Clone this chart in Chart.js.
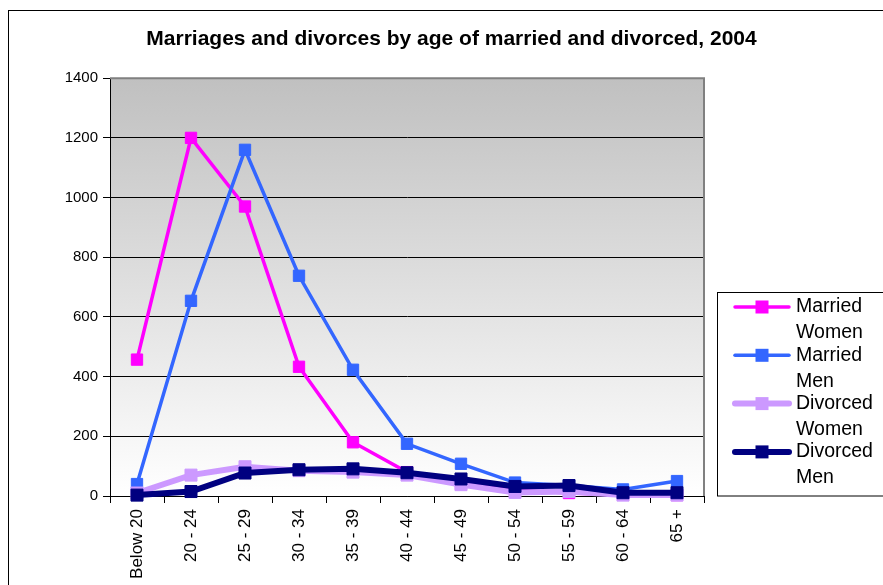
<!DOCTYPE html>
<html>
<head>
<meta charset="utf-8">
<script src="https://cdn.jsdelivr.net/npm/chart.js@4.4.0/dist/chart.umd.min.js"></script>
<style>
  html, body { margin: 0; padding: 0; background: #fff; }
  #wrap { width: 883px; height: 585px; position: relative; overflow: hidden; }
</style>
</head>
<body>
<div id="wrap"><canvas id="chart" width="883" height="585"></canvas></div>
<script>
// values
const ageGroups = ['Below 20', '20 - 24', '25 - 29', '30 - 34', '35 - 39', '40 - 44', '45 - 49', '50 - 54', '55 - 59', '60 - 64', '65 +'];
const marriedWomen = [457, 1200, 970, 433, 180, 80, 40, 20, 10, 4, 3];
const marriedMen = [40, 654, 1160, 738, 423, 175, 108, 45, 35, 22, 50];
const divorcedWomen = [10, 70, 98, 85, 80, 70, 38, 12, 15, 3, 3];
const divorcedMen = [3, 15, 77, 88, 91, 78, 57, 32, 35, 11, 11];
const yTicks = [0, 200, 400, 600, 800, 1000, 1200, 1400];

const seriesNames = [['Married', 'Women'], ['Married', 'Men'], ['Divorced', 'Women'], ['Divorced', 'Men']];
const seriesColors = ['#FF00FF', '#3366FF', '#CC99FF', '#000080'];
const seriesWidths = [3.5, 3.5, 6, 6];

const fontFamily = "'Liberation Sans', Arial, sans-serif";

function makeDataset(i, values) {
    return {
        label: seriesNames[i].join(' '),
        data: values,
        borderColor: seriesColors[i],
        backgroundColor: seriesColors[i],
        borderWidth: seriesWidths[i],
        pointStyle: 'rect',
        pointRadius: i < 2 ? 8 : 8.5,
        pointBorderWidth: 1,
        pointBorderColor: seriesColors[i],
        pointBackgroundColor: seriesColors[i],
        tension: 0,
        clip: false,
        order: 3 - i // last series on top, like the original
    };
}

// background, outer frame and gradient plot area
const backdrop = {
    id: 'backdrop',
    beforeDraw(chart) {
        const ctx = chart.ctx;
        const a = chart.chartArea;
        ctx.save();
        ctx.fillStyle = '#fff';
        ctx.fillRect(0, 0, chart.width, chart.height);
        ctx.strokeStyle = '#000';
        ctx.lineWidth = 1;
        ctx.strokeRect(8.5, 10.5, 1000, 1000);
        const g = ctx.createLinearGradient(0, a.top, 0, a.bottom);
        g.addColorStop(0, '#C0C0C0');
        g.addColorStop(1, '#FFFFFF');
        ctx.fillStyle = g;
        ctx.fillRect(a.left, a.top, a.right - a.left, a.bottom - a.top);
        ctx.restore();
    },
    beforeDatasetsDraw(chart) {
        const ctx = chart.ctx;
        const a = chart.chartArea;
        ctx.save();
        ctx.strokeStyle = '#808080';
        ctx.lineWidth = 2;
        ctx.beginPath();
        ctx.moveTo(a.left, a.top);
        ctx.lineTo(a.right, a.top);
        ctx.lineTo(a.right, a.bottom);
        ctx.stroke();
        ctx.restore();
    }
};

// boxed legend with line + square swatches and wrapped names
const boxLegend = {
    id: 'boxLegend',
    afterDraw(chart) {
        const ctx = chart.ctx;
        const left = 717.5, top = 292.5;
        ctx.save();
        ctx.fillStyle = '#fff';
        ctx.fillRect(left, top, 200, 203.5);
        ctx.strokeStyle = '#000';
        ctx.lineWidth = 1;
        ctx.strokeRect(left, top, 200, 203.5);
        ctx.font = '19.5px ' + fontFamily;
        ctx.textBaseline = 'middle';
        ctx.textAlign = 'left';
        seriesNames.forEach((name, i) => {
            const y = 307 + i * 48.3;
            ctx.strokeStyle = seriesColors[i];
            ctx.lineWidth = seriesWidths[i];
            ctx.lineCap = 'round';
            ctx.beginPath();
            ctx.moveTo(735, y);
            ctx.lineTo(789, y);
            ctx.stroke();
            ctx.fillStyle = seriesColors[i];
            ctx.fillRect(762 - 6.5, y - 6.5, 13, 13);
            ctx.fillStyle = '#000';
            name.forEach((line, k) => ctx.fillText(line, 796, y + k * 26));
        });
        ctx.restore();
    }
};

new Chart(document.getElementById('chart'), {
    type: 'line',
    data: {
        labels: ageGroups,
        datasets: [
            makeDataset(0, marriedWomen),
            makeDataset(1, marriedMen),
            makeDataset(2, divorcedWomen),
            makeDataset(3, divorcedMen)
        ]
    },
    options: {
        responsive: false,
        animation: false,
        devicePixelRatio: 1,
        layout: { padding: { top: 10, left: 20, right: 0, bottom: 0 } },
        plugins: {
            legend: { display: false },
            tooltip: { enabled: false },
            title: {
                display: true,
                text: 'Marriages and divorces by age of married and divorced, 2004',
                color: '#000',
                font: { family: fontFamily, size: 21, weight: 'bold' },
                padding: { top: 17, bottom: 26 }
            }
        },
        scales: {
            x: {
                offset: true,
                grid: { offset: true, drawOnChartArea: false, tickLength: 7, color: '#000' },
                border: { color: '#000', width: 1 },
                ticks: {
                    autoSkip: false,
                    maxRotation: 90,
                    minRotation: 90,
                    padding: 6,
                    color: '#000',
                    font: { family: fontFamily, size: 17 }
                },
                afterFit(scale) { scale.height = 89; }
            },
            y: {
                min: 0,
                max: 1400,
                afterBuildTicks(scale) { scale.ticks = yTicks.map(v => ({ value: v })); },
                grid: {
                    color: ctx => ctx.tick && ctx.tick.value === 1400 ? 'rgba(0,0,0,0)' : '#000',
                    tickColor: '#000',
                    tickLength: 7,
                    lineWidth: 1
                },
                border: { color: '#000', width: 1 },
                ticks: {
                    padding: 5,
                    color: '#000',
                    font: { family: fontFamily, size: 15 },
                    callback: value => String(value)
                },
                afterFit(scale) { scale.width = 90; }
            },
            side: {
                type: 'linear',
                position: 'right',
                grid: { display: false, drawTicks: false },
                border: { display: false },
                ticks: { display: false },
                afterFit(scale) { scale.width = 179; }
            }
        }
    },
    plugins: [backdrop, boxLegend]
});
</script>
</body>
</html>
